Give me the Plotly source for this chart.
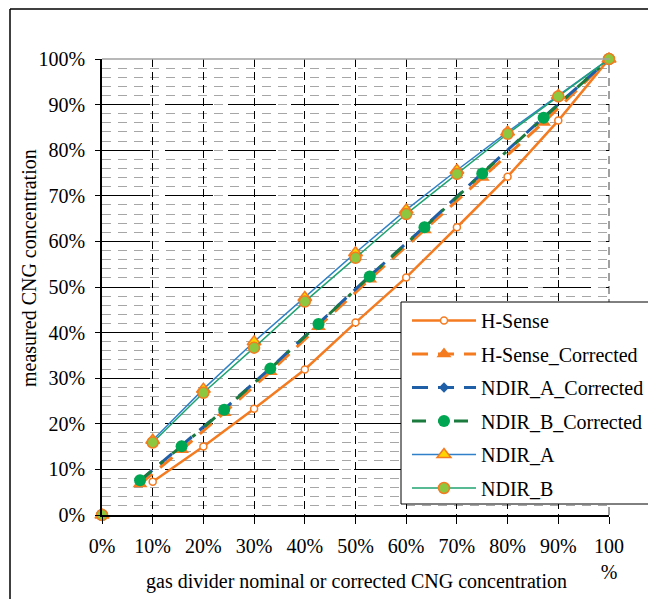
import plotly.graph_objects as go

# ---- data ----
nominal_x = [0, 10, 20, 30, 40, 50, 60, 70, 80, 90, 100]
corrected_x = [0, 7.5, 15.7, 24.1, 33.2, 42.7, 52.8, 63.6, 75.0, 87.1, 100]

h_sense = [0, 7.3, 15.0, 23.3, 31.9, 42.2, 52.1, 63.1, 74.2, 86.5, 100]
h_sense_corrected = [0, 6.8, 14.3, 22.4, 31.4, 41.3, 51.7, 62.5, 74.0, 86.1, 100]
ndir_a_corrected = [0, 7.5, 15.2, 23.2, 32.2, 42.0, 52.4, 63.2, 75.0, 87.2, 100]
ndir_b_corrected = [0, 7.6, 15.1, 23.1, 32.1, 41.9, 52.3, 63.1, 74.9, 87.1, 100]
ndir_a = [0, 16.4, 27.6, 38.0, 47.7, 57.5, 66.9, 75.6, 84.0, 92.0, 100]
ndir_b = [0, 15.9, 26.8, 36.7, 46.8, 56.4, 66.0, 74.8, 83.6, 91.8, 100]

x_tick_vals = [0, 10, 20, 30, 40, 50, 60, 70, 80, 90, 100]
x_tick_text = ["0%", "10%", "20%", "30%", "40%", "50%", "60%", "70%", "80%", "90%", "100<br>%"]
y_tick_vals = [0, 10, 20, 30, 40, 50, 60, 70, 80, 90, 100]
y_tick_text = ["0%", "10%", "20%", "30%", "40%", "50%", "60%", "70%", "80%", "90%", "100%"]

series_names = ["H-Sense", "H-Sense_Corrected", "NDIR_A_Corrected",
                "NDIR_B_Corrected", "NDIR_A", "NDIR_B"]

ORANGE = "#F47B20"
FONT = "Liberation Serif, Times New Roman, serif"
FS = 20

series = [
    # name, x, y, line style, marker style
    (series_names[0], nominal_x, h_sense,
     dict(color=ORANGE, width=2.5),
     dict(symbol="circle", size=7, color="white", line=dict(color=ORANGE, width=1.5))),
    (series_names[1], corrected_x, h_sense_corrected,
     dict(color=ORANGE, width=3, dash="16px,10px"),
     dict(symbol="triangle-up", size=13, color=ORANGE)),
    (series_names[2], corrected_x, ndir_a_corrected,
     dict(color="#1F5FA8", width=3, dash="16px,10px"),
     dict(symbol="diamond", size=8, color="#1F5FA8")),
    (series_names[3], corrected_x, ndir_b_corrected,
     dict(color="#1B7A3E", width=3, dash="14px,12px,4px,12px"),
     dict(symbol="circle", size=12, color="#00A651")),
    (series_names[4], nominal_x, ndir_a,
     dict(color="#2F80C8", width=1.5),
     dict(symbol="triangle-up", size=12, color="#FFD400", line=dict(color=ORANGE, width=1.5))),
    (series_names[5], nominal_x, ndir_b,
     dict(color="#1FA372", width=1.5),
     dict(symbol="circle", size=11, color="#8DC63F", line=dict(color=ORANGE, width=1.5))),
]

fig = go.Figure()
for i, (name, xs, ys, line, marker) in enumerate(series):
    # the origin point is shown as a lone marker (no connecting segment)
    fig.add_trace(go.Scatter(
        x=xs[:1], y=ys[:1], name=name, mode="markers", marker=marker,
        cliponaxis=False, showlegend=False, legendgroup=f"g{i}"))
    fig.add_trace(go.Scatter(
        x=xs[1:], y=ys[1:], name=name, mode="lines+markers",
        line=line, marker=marker, cliponaxis=False, legendgroup=f"g{i}"))

# page offset (body margin) between figure and screenshot
OFF = 8
W, H = 656, 599
# plot area in screenshot pixels: x 102..609, y 59..515
L = 102 - OFF
T = 59 - OFF
R = W - (609 - OFF)
B = H - (515 - OFF)
pw, ph = W - L - R, H - T - B


def px_x(sx):
    return (sx - OFF - L) / pw


def px_y(sy):
    return (H - B - (sy - OFF)) / ph


fig.update_layout(
    width=W, height=H,
    margin=dict(l=L, r=R, t=T, b=B, pad=0),
    paper_bgcolor="white", plot_bgcolor="white",
    font=dict(family=FONT, size=FS, color="black"),
    showlegend=True,
    legend=dict(
        x=px_x(407), y=px_y(301), xanchor="left", yanchor="top",
        bgcolor="rgba(0,0,0,0)", borderwidth=0,
        font=dict(family=FONT, size=FS, color="black"),
        tracegroupgap=4.5, itemwidth=64, traceorder="grouped",
    ),
    xaxis=dict(
        range=[0, 100], tickmode="array", tickvals=x_tick_vals, ticktext=x_tick_text,
        showline=True, linecolor="black", linewidth=1.5,
        ticks="outside", ticklen=7, tickcolor="black", tickwidth=1,
        ticklabelstandoff=5,
        showgrid=True, gridcolor="black", gridwidth=1, griddash="8px,5px",
        zeroline=False, tickfont=dict(family=FONT, size=FS, color="black"),
    ),
    yaxis=dict(
        range=[0, 100], tickmode="array", tickvals=y_tick_vals, ticktext=y_tick_text,
        showline=True, linecolor="black", linewidth=1.5,
        ticks="outside", ticklen=5, tickcolor="black", tickwidth=1,
        ticklabelstandoff=6,
        showgrid=True, gridcolor="black", gridwidth=1, griddash="48px,15px",
        minor=dict(dtick=2, showgrid=True, gridcolor="#A6A6A6", gridwidth=1,
                   griddash="9px,7px", ticks=""),
        zeroline=False, tickfont=dict(family=FONT, size=FS, color="black"),
    ),
    annotations=[
        dict(text="gas divider nominal or corrected CNG concentration",
             xref="paper", yref="paper", x=px_x(356), y=px_y(581),
             xanchor="center", yanchor="middle", showarrow=False,
             font=dict(family=FONT, size=FS, color="black")),
        dict(text="measured CNG concentration",
             xref="paper", yref="paper", x=px_x(29), y=px_y(268),
             xanchor="center", yanchor="middle", showarrow=False, textangle=-90,
             font=dict(family=FONT, size=FS, color="black")),
    ],
    shapes=[
        # plot-area border (top and right, grey)
        dict(type="line", xref="paper", yref="paper", x0=0, x1=1, y0=1, y1=1,
             line=dict(color="#A0A0A0", width=1.5), layer="above"),
        dict(type="line", xref="paper", yref="paper", x0=1, x1=1, y0=0, y1=1,
             line=dict(color="#A0A0A0", width=2, dash="8px,5px"), layer="below"),
        # legend frame (extends beyond the right edge, as in the reference)
        dict(type="rect", xref="paper", yref="paper",
             x0=px_x(401), x1=px_x(720), y0=px_y(504), y1=px_y(302),
             fillcolor="white", line=dict(color="black", width=1), layer="above"),
        # outer chart frame (left and top edges visible)
        dict(type="line", xref="paper", yref="paper",
             x0=px_x(10), x1=px_x(10), y0=px_y(9), y1=px_y(640),
             line=dict(color="black", width=1.5)),
        dict(type="line", xref="paper", yref="paper",
             x0=px_x(10), x1=px_x(720), y0=px_y(9), y1=px_y(9),
             line=dict(color="black", width=1.5)),
    ],
)

fig.write_html("out.html")
